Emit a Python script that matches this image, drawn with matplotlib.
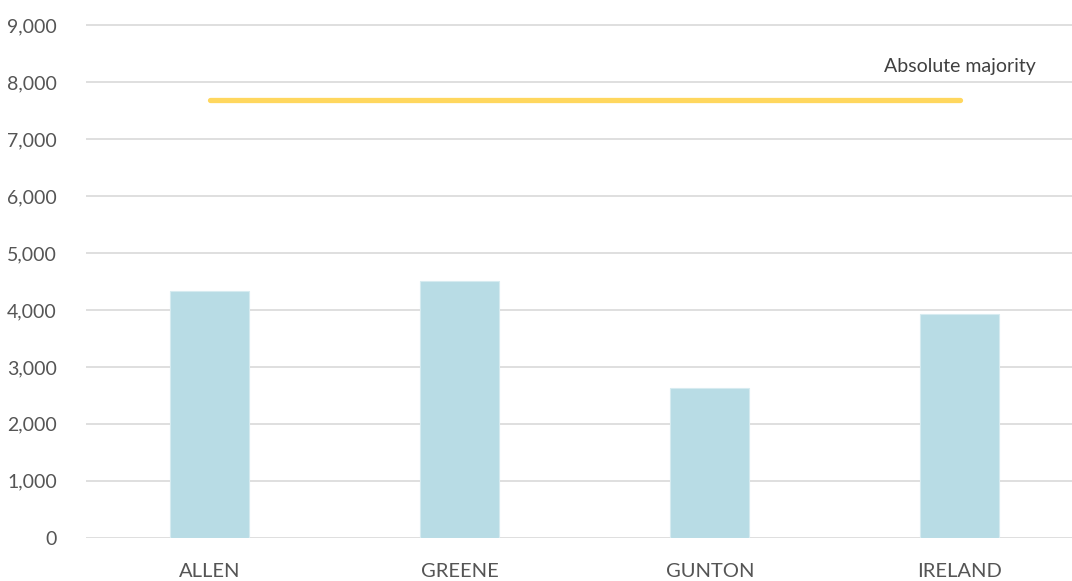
import matplotlib.pyplot as plt
from matplotlib.ticker import FuncFormatter

candidates = ["ALLEN", "GREENE", "GUNTON", "IRELAND"]
votes = [4330, 4515, 2625, 3935]
majority = 7690
yticks = [0, 1000, 2000, 3000, 4000, 5000, 6000, 7000, 8000, 9000]

plt.rcParams['font.family'] = ['Lato', 'DejaVu Sans']
text_color = '#555555'

fig = plt.figure(figsize=(10.72, 5.81), dpi=100)
ax = fig.add_axes([0.0802, 0.0745, 0.9198, 0.9613 - 0.0745])

x = list(range(len(candidates)))
ax.bar(x, votes, width=0.316, color='#b8dce5', edgecolor='#d6ebf0', linewidth=0.8, zorder=3)

# absolute majority line from first to last candidate
ax.plot([x[0], x[-1]], [majority, majority], color='#ffd75e', linewidth=3.8,
        solid_capstyle='round', zorder=4)
ax.annotate("Absolute majority", (x[-1], majority), xytext=(0, 18),
            textcoords='offset points', ha='center', va='bottom',
            fontsize=14, color='#404040')

ax.set_xlim(-0.496, 3.448)
ax.set_ylim(0, 9050)
ax.set_yticks(yticks)
ax.yaxis.set_major_formatter(FuncFormatter(lambda v, p: f"{int(v):,}"))
ax.set_xticks(x)
ax.set_xticklabels(candidates)

ax.grid(axis='y', color='#d9d9d9', linewidth=1.2, zorder=0)
ax.set_axisbelow(True)
for s in ax.spines.values():
    s.set_visible(False)
ax.tick_params(axis='y', length=0, pad=21, labelsize=14, labelcolor=text_color)
ax.tick_params(axis='x', length=0, pad=18, labelsize=14.5, labelcolor=text_color)

fig.savefig('out.png', dpi=100)
